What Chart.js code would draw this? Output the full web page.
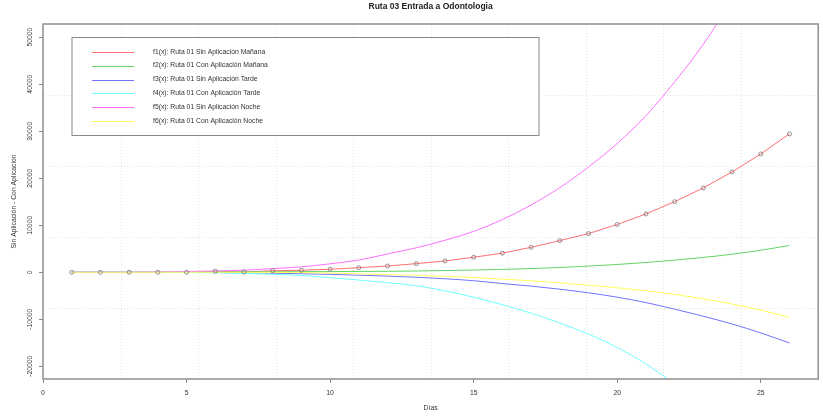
<!DOCTYPE html>
<html>
<head>
<meta charset="utf-8">
<script src="https://cdn.jsdelivr.net/npm/chart.js@4"></script>
<style>
  body { margin: 0; background: #fff; }
  canvas { display: block; }
</style>
</head>
<body>
<canvas id="grafica" width="823" height="417"></canvas>
<script>
// Datos (Días vs diferencia)
var dias = [1, 2, 3, 4, 5, 6, 7, 8, 9, 10, 11, 12, 13, 14, 15, 16, 17, 18, 19, 20, 21, 22, 23, 24, 25, 26];

var f1 = [0, 0, 0, 0, 0, 210, 60, 340, 425, 640, 980, 1340, 1830, 2400, 3190, 4070, 5310, 6730, 8220, 10170, 12400, 15020, 17940, 21340, 25170, 29430];
var f2 = [0, 0, 0, 0, 30, 60, 80, 100, 120, 140, 170, 210, 270, 360, 470, 610, 790, 1020, 1310, 1660, 2080, 2580, 3160, 3840, 4680, 5700];
var f3 = [0, 0, 0, 0, -20, -60, -120, -200, -310, -450, -620, -820, -1060, -1380, -1800, -2400, -2950, -3600, -4370, -5300, -6450, -7850, -9350, -11000, -12900, -15040];
var f4 = [0, 0, 0, 0, -30, -120, -250, -430, -680, -1150, -1650, -2200, -2850, -3950, -5300, -6900, -8700, -10800, -13150, -16000, -19500, -23800, -28600, -33800, -39500, -45800];
var f5 = [0, 0, 0, 50, 150, 280, 450, 780, 1150, 1800, 2600, 3900, 5200, 6800, 8700, 11200, 14300, 18000, 22400, 27400, 33300, 40500, 48500, 58000, 69000, 82000];
var f6 = [0, 0, 0, 0, 0, -10, -20, -40, -70, -180, -330, -480, -650, -860, -1120, -1450, -1820, -2250, -2750, -3300, -3950, -4720, -5650, -6750, -8050, -9570];

var etiquetas = [
    "f1(x): Ruta 01 Sin Aplicación Mañana",
    "f2(x): Ruta 01 Con Aplicación Mañana",
    "f3(x): Ruta 01 Sin Aplicación Tarde",
    "f4(x): Ruta 01 Con Aplicación Tarde",
    "f5(x): Ruta 01 Sin Aplicación Noche",
    "f6(x): Ruta 01 Con Aplicación Noche"
];
var colores = ["#ff7070", "#66d466", "#7272ff", "#70ffff", "#ff70ff", "#ffff5c"];

var xTicks = [0, 5, 10, 15, 20, 25];
var yTicks = [-20000, -10000, 0, 10000, 20000, 30000, 40000, 50000];

var titulo = "Ruta 03 Entrada a Odontologia";
var tituloX = "Días";
var tituloY = "Sin Aplicación - Con Aplicación";

var fuente = "'Liberation Sans', Arial, sans-serif";

// Construir los puntos {x, y} para cada serie
function puntos(valores) {
    return dias.map((d, i) => ({ x: d, y: valores[i] }));
}

var series = [f1, f2, f3, f4, f5, f6];
var datasets = series.map((s, i) => ({
    label: etiquetas[i],
    data: puntos(s),
    borderColor: colores[i],
    borderWidth: 1,
    pointRadius: 0,
    fill: false,
    cubicInterpolationMode: i === 0 ? 'default' : 'monotone',
    tension: 0,
    order: 6 - i   // f6 queda encima
}));

// Círculos de los datos observados (encima de todo)
datasets.push({
    label: 'puntos',
    data: puntos(f1),
    showLine: false,
    pointRadius: 2,
    pointBorderWidth: 0.8,
    pointBorderColor: '#777',
    pointBackgroundColor: 'rgba(0,0,0,0)',
    order: 0
});

// Plugin para rejilla, caja, títulos y leyenda al estilo R
var decoracion = {
    id: 'decoracion',
    beforeDatasetsDraw(chart) {
        var ctx = chart.ctx, a = chart.chartArea;
        var x = chart.scales.x, y = chart.scales.y;
        ctx.save();
        ctx.strokeStyle = '#e2e2e2';
        ctx.lineWidth = 1;
        ctx.setLineDash([1, 2]);
        for (var k = 1; k < 10; k++) {
            var px = Math.round(x.getPixelForValue(x.min + k * (x.max - x.min) / 10)) + 0.5;
            ctx.beginPath(); ctx.moveTo(px, a.top); ctx.lineTo(px, a.bottom); ctx.stroke();
        }
        for (var k = 1; k < 5; k++) {
            var py = Math.round(y.getPixelForValue(y.min + k * (y.max - y.min) / 5)) + 0.5;
            ctx.beginPath(); ctx.moveTo(a.left, py); ctx.lineTo(a.right, py); ctx.stroke();
        }
        ctx.restore();
    },
    afterDraw(chart) {
        var ctx = chart.ctx, a = chart.chartArea;
        var y = chart.scales.y;
        ctx.save();

        // Caja
        ctx.strokeStyle = '#8f8f8f';
        ctx.lineWidth = 1.5;
        ctx.strokeRect(a.left, a.top, a.right - a.left, a.bottom - a.top);

        // Título
        ctx.fillStyle = '#222';
        ctx.font = 'bold 8.5px ' + fuente;
        ctx.textAlign = 'center';
        ctx.textBaseline = 'middle';
        ctx.fillText(titulo, (a.left + a.right) / 2, 7);

        // Títulos de los ejes
        ctx.font = '6.8px ' + fuente;
        ctx.fillStyle = '#333';
        ctx.fillText(tituloX, (a.left + a.right) / 2, 408);
        ctx.save();
        ctx.translate(14, (a.top + a.bottom) / 2);
        ctx.rotate(-Math.PI / 2);
        ctx.fillText(tituloY, 0, 0);
        ctx.restore();

        // Etiquetas del eje Y (giradas)
        yTicks.forEach(v => {
            ctx.save();
            ctx.translate(30, y.getPixelForValue(v));
            ctx.rotate(-Math.PI / 2);
            ctx.fillText(String(v), 0, 0);
            ctx.restore();
        });

        // Leyenda
        ctx.fillStyle = '#fff';
        ctx.fillRect(72, 37.5, 467, 98);
        ctx.strokeStyle = '#888';
        ctx.lineWidth = 1;
        ctx.strokeRect(72, 37.5, 467, 98);
        ctx.textAlign = 'left';
        chart.data.datasets.slice(0, 6).forEach((ds, i) => {
            var fy = 51.7 + i * 13.9;
            ctx.strokeStyle = ds.borderColor;
            ctx.beginPath(); ctx.moveTo(92, Math.round(fy) + 0.5); ctx.lineTo(134, Math.round(fy) + 0.5); ctx.stroke();
            ctx.fillStyle = '#333';
            ctx.fillText(ds.label, 153, fy);
        });
        ctx.restore();
    }
};

var ctx = document.getElementById("grafica").getContext("2d");
window.grafica = new Chart(ctx, {
    type: 'line',
    data: { datasets: datasets },
    options: {
        responsive: false,
        animation: false,
        devicePixelRatio: 1,
        layout: { padding: { left: 0, right: 3, top: 24, bottom: 0 } },
        plugins: {
            legend: { display: false },
            tooltip: { enabled: false }
        },
        scales: {
            x: {
                type: 'linear',
                min: 0,
                max: 27,
                afterBuildTicks: s => { s.ticks = xTicks.map(v => ({ value: v })); },
                afterFit: s => { s.height = 38; },
                border: { display: false },
                grid: { display: true, drawOnChartArea: false, drawTicks: true, tickLength: 4, tickColor: '#888' },
                ticks: { color: '#333', padding: 6, maxRotation: 0, font: { family: fuente, size: 6.8 } }
            },
            y: {
                type: 'linear',
                min: -22700,
                max: 52800,
                afterBuildTicks: s => { s.ticks = yTicks.map(v => ({ value: v })); },
                afterFit: s => { s.width = 43; },
                border: { display: false },
                grid: { display: true, drawOnChartArea: false, drawTicks: true, tickLength: 4, tickColor: '#888' },
                ticks: { display: false }
            }
        }
    },
    plugins: [decoracion]
});
</script>
</body>
</html>
